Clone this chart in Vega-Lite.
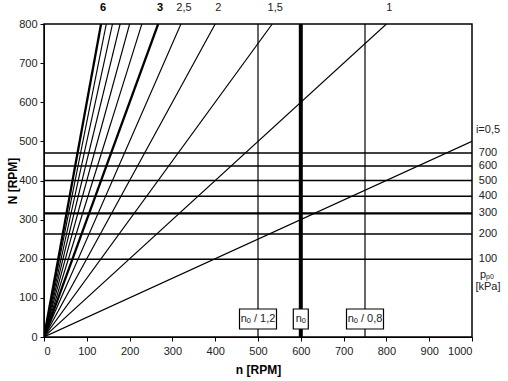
{
  "$schema": "https://vega.github.io/schema/vega-lite/v6.json",
  "width": 428,
  "height": 313,
  "autosize": "none",
  "padding": {"left": 44, "top": 24, "right": 36, "bottom": 44},
  "background": "white",
  "config": {
    "font": "Liberation Sans",
    "view": {"stroke": "black", "strokeWidth": 1.5},
    "axis": {"grid": false, "domainColor": "black", "tickColor": "black", "labelColor": "#222", "labelFontSize": 11, "labelFont": "Liberation Sans", "titleFont": "Liberation Sans", "titleFontSize": 12, "titleFontWeight": "bold", "titleColor": "black", "tickSize": 4, "format": "d", "labelOverlap": false},
    "axisX": {"labelPadding": 4, "titlePadding": 8},
    "axisY": {"labelPadding": 3, "titlePadding": -1}
  },
  "datasets": {
    "lines": [
      {"i": 0.5, "n": 0, "N": 0}, {"i": 0.5, "n": 1000, "N": 500},
      {"i": 1, "n": 0, "N": 0}, {"i": 1, "n": 800, "N": 800},
      {"i": 1.5, "n": 0, "N": 0}, {"i": 1.5, "n": 533.3, "N": 800},
      {"i": 2, "n": 0, "N": 0}, {"i": 2, "n": 400, "N": 800},
      {"i": 2.5, "n": 0, "N": 0}, {"i": 2.5, "n": 320, "N": 800},
      {"i": 3, "n": 0, "N": 0}, {"i": 3, "n": 266.7, "N": 800},
      {"i": 3.5, "n": 0, "N": 0}, {"i": 3.5, "n": 228.6, "N": 800},
      {"i": 4, "n": 0, "N": 0}, {"i": 4, "n": 200, "N": 800},
      {"i": 4.5, "n": 0, "N": 0}, {"i": 4.5, "n": 177.8, "N": 800},
      {"i": 5, "n": 0, "N": 0}, {"i": 5, "n": 160, "N": 800},
      {"i": 5.5, "n": 0, "N": 0}, {"i": 5.5, "n": 145.5, "N": 800},
      {"i": 6, "n": 0, "N": 0}, {"i": 6, "n": 133.3, "N": 800}
    ],
    "hlines": [
      {"p": 700, "N": 470}, {"p": 600, "N": 437}, {"p": 500, "N": 400},
      {"p": 400, "N": 360}, {"p": 300, "N": 316}, {"p": 200, "N": 263}, {"p": 100, "N": 199}
    ],
    "vlines": [
      {"n": 500, "label": "nₒ / 1,2"}, {"n": 600, "label": "nₒ"}, {"n": 750, "label": "nₒ / 0,8"}
    ],
    "ilabels": [
      {"label": "6", "n": 133.3, "i": 6}, {"label": "3", "n": 266.7, "i": 3},
      {"label": "2,5", "n": 320, "i": 2.5}, {"label": "2", "n": 400, "i": 2},
      {"label": "1,5", "n": 533.3, "i": 1.5}, {"label": "1", "n": 800, "i": 1}
    ],
    "rlabels": [
      {"label": "i=0,5", "N": 529}, {"label": "700", "N": 470}, {"label": "600", "N": 437},
      {"label": "500", "N": 400}, {"label": "400", "N": 360}, {"label": "300", "N": 316},
      {"label": "200", "N": 263}, {"label": "100", "N": 199}, {"label": "[kPa]", "N": 128}
    ]
  },
  "layer": [
    {
      "data": {"name": "lines"},
      "mark": {"type": "line", "color": "black", "clip": true},
      "encoding": {
        "x": {"field": "n", "type": "quantitative", "scale": {"domain": [0, 1000], "nice": false}, "axis": {"values": [0,100,200,300,400,500,600,700,800,900,1000], "title": "n [RPM]"}},
        "y": {"field": "N", "type": "quantitative", "scale": {"domain": [0, 800], "nice": false}, "axis": {"values": [0,100,200,300,400,500,600,700,800], "title": "N [RPM]"}},
        "detail": {"field": "i"},
        "strokeWidth": {"condition": {"test": "datum.i == 3 || datum.i == 6", "value": 2.3}, "value": 1.15}
      }
    },
    {
      "data": {"name": "hlines"},
      "mark": {"type": "rule", "color": "black"},
      "encoding": {
        "y": {"field": "N", "type": "quantitative", "axis": {"values": [0,100,200,300,400,500,600,700,800], "title": "N [RPM]"}},
        "strokeWidth": {"condition": {"test": "datum.p == 300", "value": 2.4}, "value": 1.5}
      }
    },
    {
      "data": {"name": "vlines"},
      "mark": {"type": "rule", "color": "black"},
      "encoding": {
        "x": {"field": "n", "type": "quantitative", "axis": {"values": [0,100,200,300,400,500,600,700,800,900,1000], "title": "n [RPM]"}},
        "strokeWidth": {"condition": {"test": "datum.n == 600", "value": 4}, "value": 1.2}
      }
    },
    {
      "data": {"name": "vlines"},
      "transform": [{"filter": "datum.n != 600"}, {"calculate": "46", "as": "N"}],
      "mark": {"type": "rect", "fill": "white", "stroke": "black", "strokeWidth": 1.2, "width": 37, "height": 20},
      "encoding": {
        "x": {"field": "n", "type": "quantitative", "axis": {"values": [0,100,200,300,400,500,600,700,800,900,1000], "title": "n [RPM]"}},
        "y": {"field": "N", "type": "quantitative", "axis": {"values": [0,100,200,300,400,500,600,700,800], "title": "N [RPM]"}}
      }
    },
    {
      "data": {"name": "vlines"},
      "transform": [{"filter": "datum.n == 600"}, {"calculate": "46", "as": "N"}],
      "mark": {"type": "rect", "fill": "white", "stroke": "black", "strokeWidth": 1.2, "width": 15, "height": 20},
      "encoding": {
        "x": {"field": "n", "type": "quantitative", "axis": {"values": [0,100,200,300,400,500,600,700,800,900,1000], "title": "n [RPM]"}},
        "y": {"field": "N", "type": "quantitative", "axis": {"values": [0,100,200,300,400,500,600,700,800], "title": "N [RPM]"}}
      }
    },
    {
      "data": {"name": "vlines"},
      "transform": [{"calculate": "46", "as": "N"}],
      "mark": {"type": "text", "fontSize": 11, "color": "#222", "baseline": "middle", "align": "center"},
      "encoding": {
        "x": {"field": "n", "type": "quantitative", "axis": {"values": [0,100,200,300,400,500,600,700,800,900,1000], "title": "n [RPM]"}},
        "y": {"field": "N", "type": "quantitative", "axis": {"values": [0,100,200,300,400,500,600,700,800], "title": "N [RPM]"}},
        "text": {"field": "label"}
      }
    },
    {
      "data": {"name": "ilabels"},
      "transform": [{"filter": "datum.i != 3 && datum.i != 6"}, {"calculate": "800", "as": "N"}],
      "mark": {"type": "text", "fontSize": 11, "color": "#222", "baseline": "middle", "align": "center", "dy": -16, "dx": 3},
      "encoding": {
        "x": {"field": "n", "type": "quantitative", "axis": {"values": [0,100,200,300,400,500,600,700,800,900,1000], "title": "n [RPM]"}},
        "y": {"field": "N", "type": "quantitative", "axis": {"values": [0,100,200,300,400,500,600,700,800], "title": "N [RPM]"}},
        "text": {"field": "label"}
      }
    },
    {
      "data": {"name": "ilabels"},
      "transform": [{"filter": "datum.i == 3 || datum.i == 6"}, {"calculate": "800", "as": "N"}],
      "mark": {"type": "text", "fontSize": 11, "fontWeight": "bold", "color": "black", "baseline": "middle", "align": "center", "dy": -16, "dx": 2},
      "encoding": {
        "x": {"field": "n", "type": "quantitative", "axis": {"values": [0,100,200,300,400,500,600,700,800,900,1000], "title": "n [RPM]"}},
        "y": {"field": "N", "type": "quantitative", "axis": {"values": [0,100,200,300,400,500,600,700,800], "title": "N [RPM]"}},
        "text": {"field": "label"}
      }
    },
    {
      "data": {"name": "rlabels"},
      "transform": [{"calculate": "1000", "as": "n"}],
      "mark": {"type": "text", "fontSize": 11, "color": "#222", "baseline": "middle", "align": "center", "dx": 16},
      "encoding": {
        "x": {"field": "n", "type": "quantitative", "axis": {"values": [0,100,200,300,400,500,600,700,800,900,1000], "title": "n [RPM]"}},
        "y": {"field": "N", "type": "quantitative", "axis": {"values": [0,100,200,300,400,500,600,700,800], "title": "N [RPM]"}},
        "text": {"field": "label"}
      }
    },
    {
      "data": {"values": [{"label": "p", "N": 159}]},
      "transform": [{"calculate": "1000", "as": "n"}],
      "mark": {"type": "text", "fontSize": 11, "color": "#222", "baseline": "middle", "align": "left", "dx": 8},
      "encoding": {
        "x": {"field": "n", "type": "quantitative", "axis": {"values": [0,100,200,300,400,500,600,700,800,900,1000], "title": "n [RPM]"}},
        "y": {"field": "N", "type": "quantitative", "axis": {"values": [0,100,200,300,400,500,600,700,800], "title": "N [RPM]"}},
        "text": {"field": "label"}
      }
    },
    {
      "data": {"values": [{"label": "p0", "N": 159}]},
      "transform": [{"calculate": "1000", "as": "n"}],
      "mark": {"type": "text", "fontSize": 7, "color": "#222", "baseline": "middle", "align": "left", "dx": 14, "dy": 2},
      "encoding": {
        "x": {"field": "n", "type": "quantitative", "axis": {"values": [0,100,200,300,400,500,600,700,800,900,1000], "title": "n [RPM]"}},
        "y": {"field": "N", "type": "quantitative", "axis": {"values": [0,100,200,300,400,500,600,700,800], "title": "N [RPM]"}},
        "text": {"field": "label"}
      }
    }
  ]
}
